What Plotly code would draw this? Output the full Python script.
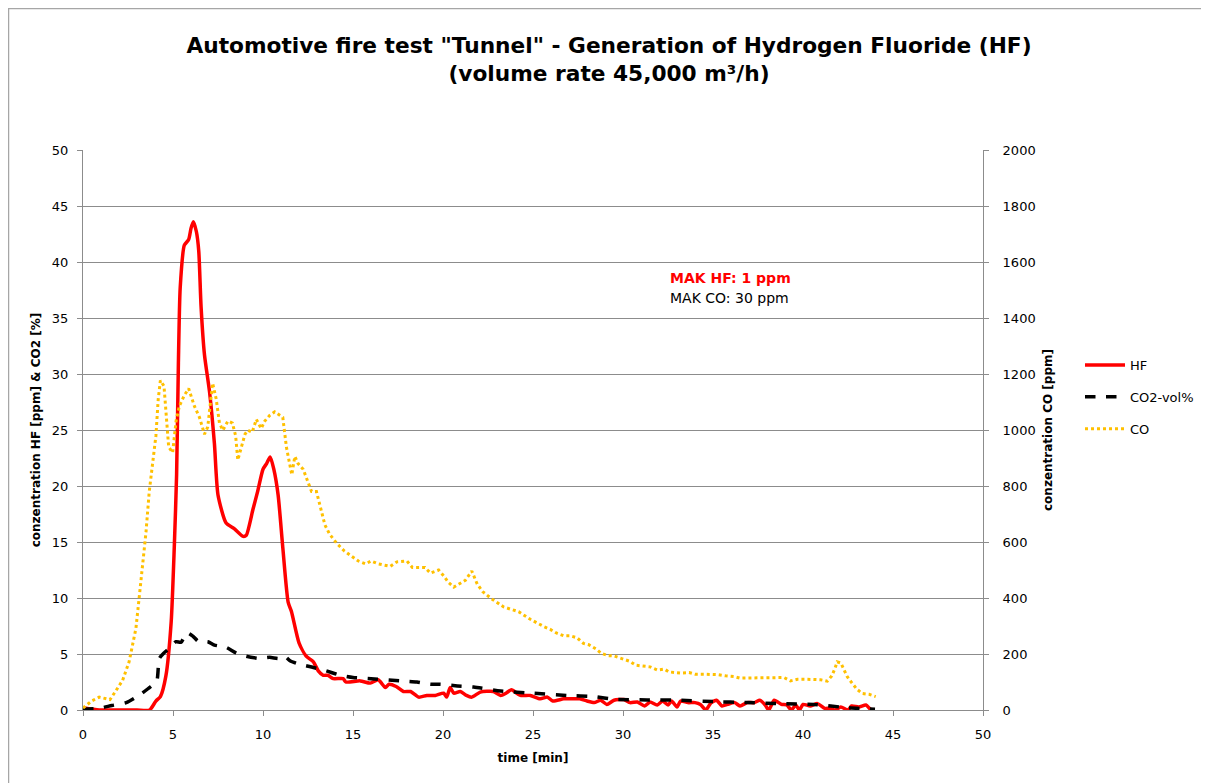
import plotly.graph_objects as go

# HF [ppm] (left axis)
hf_t = [0, 0.9, 2.0, 3.0, 3.7, 4.05, 4.3, 4.6, 4.9, 5.07, 5.2, 5.3, 5.4, 5.63, 5.87, 6.0, 6.13, 6.3, 6.43,
        6.56, 6.75, 7.03, 7.3, 7.5, 7.95, 8.4, 8.9, 9.07, 9.44, 9.7, 10.0, 10.2, 10.4, 10.6, 10.84, 11.1,
        11.4, 11.58, 12.0, 12.4, 12.8, 13.07, 13.35, 13.6, 13.9, 14.45, 14.6, 15.4, 15.96, 16.4, 16.8, 17.0,
        17.4, 17.8, 18.2, 18.65, 19.1, 19.57, 20.04, 20.2, 20.4, 20.6, 20.96, 21.3, 21.6, 22.07, 22.8, 23.2,
        23.5, 23.8, 24.3, 24.85, 25.4, 25.8, 26.1, 26.7, 27.07, 27.6, 28.0, 28.4, 28.76, 29.1, 29.5, 30.05,
        30.4, 30.8, 31.2, 31.5, 31.9, 32.2, 32.5, 32.7, 33.0, 33.2, 33.6, 34.0, 34.3, 34.6, 34.9, 35.2, 35.5,
        35.8, 36.2, 36.5, 36.9, 37.3, 37.6, 37.9, 38.1, 38.4, 38.8, 39.1, 39.35, 39.6, 39.8, 40.0, 40.4, 40.8,
        41.2, 41.5, 41.8, 42.1, 42.5, 42.7, 43.1, 43.5, 43.75, 43.9]
hf_v = [0.2, 0, 0, 0, 0, 0.8, 1.2, 3, 7.9, 14.5, 21, 31, 37.7, 41.5, 42, 43, 43.6, 42.7, 41,
        36, 31.7, 28.4, 23.8, 19.2, 16.7, 16.2, 15.5, 15.6, 17.9, 19.5, 21.5, 22, 22.6, 21.5, 19.2, 14.5,
        9.6, 8.8, 6, 4.8, 4.3, 3.5, 3.1, 3.1, 2.8, 2.8, 2.5, 2.6, 2.4, 2.7, 2.0, 2.3,
        2.1, 1.65, 1.65, 1.15, 1.3, 1.3, 1.5, 1.15, 2.0, 1.5, 1.65, 1.3, 1.15, 1.6, 1.65, 1.3,
        1.5, 1.8, 1.3, 1.3, 1.0, 1.15, 0.8, 1.0, 1.0, 1.0, 0.8, 0.66, 0.87, 0.5, 0.87, 0.93,
        0.66, 0.72, 0.36, 0.72, 0.45, 0.8, 0.45, 0.8, 0.27, 0.8, 0.66, 0.66, 0.5, 0.0, 0.66, 0.87, 0.36,
        0.5, 0.66, 0.36, 0.66, 0.66, 0.87, 0.45, 0.0, 0.87, 0.5, 0.45, 0.0, 0.45, 0.0, 0.5, 0.36, 0.57,
        0.15, 0.15, 0.0, 0.27, 0.0, 0.36, 0.27, 0.45, 0.06, 0.0]

# CO2 [vol%] (left axis)
co2_t = [0, 0.9, 1.6, 2.4, 3.1, 3.77, 4.1, 4.24, 4.5, 4.8, 5.17, 5.45, 5.76, 6.1, 6.43, 6.93, 7.3, 7.95,
         8.5, 9.07, 9.8, 10.37, 10.9, 11.2, 11.5, 12.0, 12.8, 13.5, 14.3, 15.0, 16.0, 17.6, 18.55, 19.3,
         19.85, 20.8, 21.7, 23.2, 25.0, 26.9, 28.4, 29.5, 31.35, 33.2, 35.05, 36.9, 38.76, 40.6, 42.5, 44.0]
co2_v = [0.1, 0.15, 0.4, 0.66, 1.3, 2.1, 2.6, 4.6, 5.1, 5.5, 6.1, 6.05, 6.9, 6.6, 6.1, 6.1, 5.8, 5.6,
         5.1, 4.8, 4.6, 4.7, 4.6, 4.8, 4.4, 4.1, 3.8, 3.5, 3.1, 2.9, 2.8, 2.6, 2.5, 2.3,
         2.3, 2.15, 2.05, 1.7, 1.5, 1.3, 1.2, 0.96, 0.9, 0.87, 0.75, 0.66, 0.57, 0.5, 0.2, 0.06]

# CO [ppm] (right axis)
co_t = [0, 0.5, 0.9, 1.26, 1.5, 1.8, 2.2, 2.56, 2.94, 3.2, 3.5, 3.68, 3.87, 4.05, 4.18, 4.3, 4.5, 4.65,
        4.76, 4.98, 5.17, 5.35, 5.63, 5.87, 6.19, 6.47, 6.75, 6.93, 7.1, 7.2, 7.4, 7.58, 7.77, 8.05, 8.3,
        8.48, 8.6, 8.8, 9.0, 9.16, 9.4, 9.63, 9.9, 10.1, 10.37, 10.65, 10.9, 11.1, 11.3, 11.45, 11.6, 11.77,
        11.95, 12.23, 12.5, 12.7, 12.97, 13.16, 13.44, 13.7, 14.1, 14.5, 14.9, 15.3, 15.7, 16.0, 16.4, 16.8,
        17.07, 17.44, 18.0, 18.3, 18.65, 19.0, 19.3, 19.76, 20.04, 20.3, 20.6, 20.87, 21.24, 21.6, 21.9,
        22.2, 22.7, 23.37, 23.74, 24.2, 24.85, 25.2, 25.6, 25.96, 26.3, 26.7, 27.07, 27.44, 27.8, 28.1,
        28.5, 28.8, 29.2, 29.5, 29.96, 30.37, 30.7, 31.17, 31.5, 31.9, 32.3, 32.55, 32.8, 33.2, 33.67, 34.0,
        34.5, 34.87, 35.3, 35.7, 36.2, 36.5, 37.0, 37.37, 37.8, 38.2, 38.6, 38.94, 39.3, 39.7, 40.15, 40.5,
        40.98, 41.35, 41.6, 41.76, 41.9, 42.1, 42.3, 42.46, 42.7, 43.0, 43.3, 43.67, 44.04]
co_v = [7, 33, 46, 40, 37, 66, 106, 172, 291, 450, 635, 780, 873, 979, 1111, 1177, 1157, 1045,
        939, 919, 1032, 1085, 1124, 1148, 1085, 1045, 985, 1011, 1124, 1167, 1111, 1025, 999, 1032, 1025,
        979, 893, 939, 985, 999, 992, 1038, 1005, 1032, 1052, 1065, 1052, 1045, 939, 886, 840, 906,
        880, 860, 814, 780, 780, 734, 661, 628, 595, 569, 549, 532, 522, 532, 522, 516,
        513, 529, 532, 509, 509, 509, 489, 500, 479, 456, 439, 450, 463, 496, 450,
        423, 397, 368, 360, 351, 324, 311, 298, 288, 275, 265, 265, 258, 238, 233,
        218, 202, 194, 193, 184, 174, 160, 156, 154, 143, 146, 136, 134, 132, 134, 128,
        128, 128, 126, 122, 119, 114, 114, 114, 114, 115, 116, 116, 104, 110, 110, 110,
        108, 103, 122, 146, 172, 168, 140, 119, 98, 74, 59, 56, 48]

x_ticks = [0, 5, 10, 15, 20, 25, 30, 35, 40, 45, 50]

FONT = "DejaVu Sans"
GRID = "#8c8c8c"
OFF = 8  # page body margin
W, H = 1209 - OFF, 783 - OFF
# target screen positions of the plot area
SX0, SX1, SY0, SY1 = 83, 983, 150, 710
L, T = SX0 - OFF, SY0 - OFF
PW, PH = SX1 - SX0, SY1 - SY0
R, B = W - L - PW, H - T - PH


def px(sx):
    return (sx - SX0) / PW


def py(sy):
    return (SY1 - sy) / PH


fig = go.Figure()
fig.add_trace(go.Scatter(x=hf_t, y=hf_v, name="HF", mode="lines", legendgroup="a",
                         line=dict(color="#ff0000", width=3.5, shape="spline", smoothing=0.6)))
fig.add_trace(go.Scatter(x=co2_t, y=co2_v, name="CO2-vol%", mode="lines", legendgroup="b",
                         line=dict(color="#000000", width=3.5, dash="dash", shape="spline", smoothing=0.6)))
fig.add_trace(go.Scatter(x=co_t, y=co_v, name="CO", mode="lines", yaxis="y2", legendgroup="c",
                         line=dict(color="#ffc000", width=3, dash="dot")))

fig.update_layout(
    width=W, height=H,
    margin=dict(l=L, r=R, t=T, b=B, autoexpand=False),
    paper_bgcolor="white", plot_bgcolor="white",
    font=dict(family=FONT, size=13, color="#000000"),
    title=dict(text="<b>Automotive fire test \"Tunnel\" - Generation of Hydrogen Fluoride (HF)<br>(volume rate 45,000 m³/h)</b>",
               x=(609 - OFF) / W, xref="container", xanchor="center", y=1 - (53 - OFF) / H, yanchor="middle",
               font=dict(family=FONT, size=21.7, color="#000000")),
    xaxis=dict(range=[0, 50], tickvals=x_ticks, showgrid=False, zeroline=False,
               showline=True, linecolor=GRID, linewidth=1, ticks="outside", ticklen=5, tickcolor=GRID,
               ticklabelstandoff=7,
               title=dict(text="<b>time [min]</b>", standoff=13, font=dict(size=12))),
    yaxis=dict(range=[0, 50], dtick=5, showgrid=True, gridcolor=GRID, gridwidth=1, zeroline=False,
               showline=True, linecolor=GRID, linewidth=1, ticks="outside", ticklen=5, tickcolor=GRID,
               ticklabelstandoff=6,
               title=dict(text="<b>conzentration HF [ppm] & CO2 [%]</b>", standoff=8, font=dict(size=12))),
    yaxis2=dict(range=[0, 2000], dtick=200, overlaying="y", side="right", showgrid=False, zeroline=False,
                showline=True, linecolor=GRID, linewidth=1, ticks="outside", ticklen=5, tickcolor=GRID,
                ticklabelstandoff=11,
                title=dict(text="<b>conzentration CO [ppm]</b>", standoff=8, font=dict(size=12))),
    legend=dict(x=px(1080), y=py(350), xanchor="left", yanchor="top",
                font=dict(family=FONT, size=13), bgcolor="rgba(0,0,0,0)", itemwidth=40,
                tracegroupgap=12),
    showlegend=True,
)

fig.add_annotation(x=px(668), y=py(278), xref="paper", yref="paper", xanchor="left", yanchor="middle",
                   showarrow=False, text="<b>MAK HF: 1 ppm</b>",
                   font=dict(family=FONT, size=14, color="#ff0000"))
fig.add_annotation(x=px(668), y=py(298), xref="paper", yref="paper", xanchor="left", yanchor="middle",
                   showarrow=False, text="MAK CO: 30 ppm",
                   font=dict(family=FONT, size=14, color="#000000"))

# chart outer border (top and left visible, right/bottom run off the page)
fig.add_shape(type="rect", xref="paper", yref="paper",
              x0=px(OFF + 0.5), x1=px(1209 + 10), y0=py(783 + 10), y1=py(OFF + 0.5),
              line=dict(color="#a6a6a6", width=1.5), fillcolor="rgba(0,0,0,0)", layer="below")

fig.write_html("out.html")
